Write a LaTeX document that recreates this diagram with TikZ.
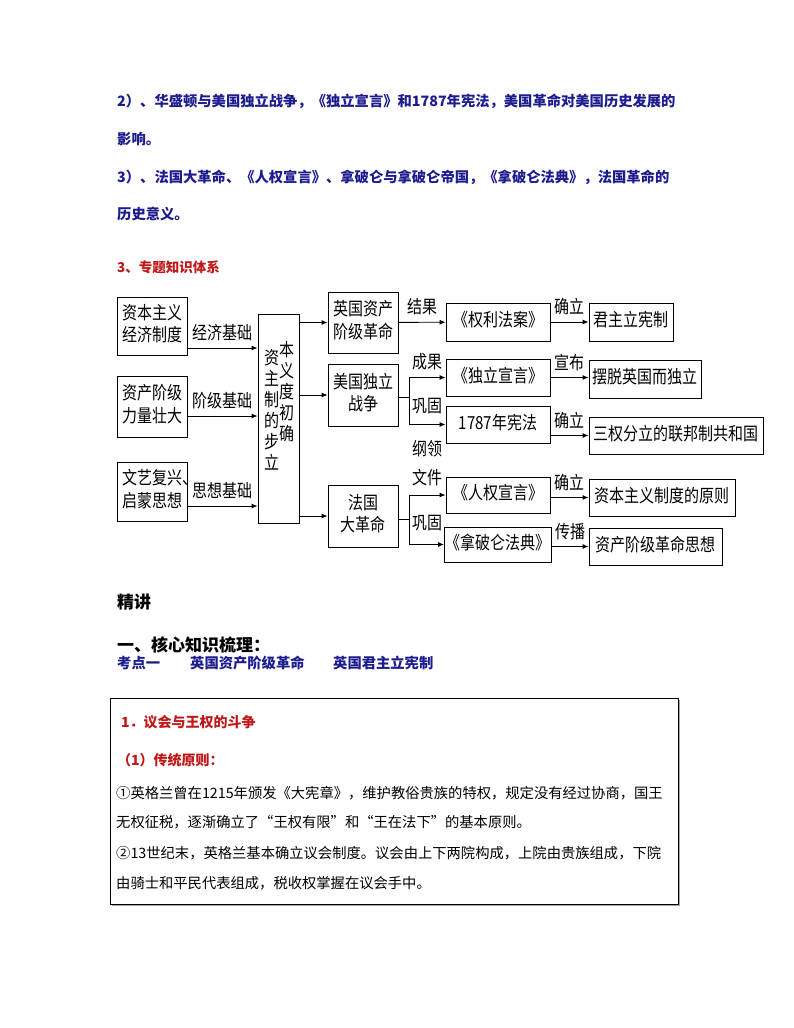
\documentclass[tikz,border=0pt]{standalone}
\usepackage{fontspec}
\setmainfont{Noto Sans CJK SC}
\usepackage{xcolor}
\usepackage{graphicx}
\usetikzlibrary{arrows.meta,positioning,calc}

\definecolor{navytxt}{HTML}{1C1C8E}
\definecolor{redtxt}{HTML}{C01818}
\newcommand{\dfont}{\fontsize{15}{19}\selectfont}
% tall glyphs of the chart
\newcommand{\vs}[1]{\scalebox{1}[1.2]{\begin{tabular}{@{}c@{}}#1\end{tabular}}}
\newcommand{\pr}[2]{\smash{\raisebox{-7pt}{#1}}#2}

\begin{document}
\begin{tikzpicture}[x=1pt, y=-1pt,
  box/.style={draw, line width=0.9pt, align=center, inner sep=1pt, font=\dfont},
  arr/.style={-{Latex[length=6pt,width=5pt]}, line width=0.9pt},
  lnk/.style={line width=0.9pt},
  lbl/.style={font=\dfont, inner sep=1pt},
  para/.style={anchor=west, inner sep=0pt, text=navytxt,
               font=\fontsize{14.3}{14.3}\selectfont\bfseries},
  redhd/.style={anchor=west, inner sep=0pt, text=redtxt,
                font=\fontsize{14}{14}\selectfont\bfseries},
  bighd/.style={anchor=west, inner sep=0pt,
                font=\fontsize{17}{17}\selectfont\bfseries},
  body/.style={anchor=west, inner sep=0pt, font=\fontsize{14.3}{14.3}\selectfont}
]
\useasboundingbox (0,0) rectangle (794,1028);
\fill[white] (0,0) rectangle (794,1028);

% top paragraphs
\node[para] (p1) at (117,101) {2）、华盛顿与美国独立战争，《独立宣言》和1787年宪法，美国革命对美国历史发展的};
\node[para] (p2) at (117,139) {影响。};
\node[para] (p3) at (117,177) {3）、法国大革命、《人权宣言》、拿破仑与拿破仑帝国，《拿破仑法典》，法国革命的};
\node[para] (p4) at (117,214) {历史意义。};
\node[redhd, font=\fontsize{13.5}{13.5}\selectfont\bfseries] (sec) at (117,267) {3、专题知识体系};

% left column
\node[box, minimum width=70pt, minimum height=58pt] (econ) at (152,326) {\vs{资本主义\\经济制度}};
\node[box, minimum width=70pt, minimum height=61pt] (cls)  at (152,406.5) {\vs{资产阶级\\力量壮大}};
\node[box, minimum width=70pt, minimum height=59pt] (idea) at (152,491.5) {\vs{文艺复兴\rlap{、}\\启蒙思想}};

\node[box, minimum width=41pt, minimum height=209pt] (core) at (278.5,418.5) {};
\node[lbl, font=\fontsize{15}{16}\selectfont] (coreTxt) at (279,404)
  {\vs{\pr{资}{本}\\\pr{主}{义}\\\pr{制}{度}\\\pr{的}{初}\\\pr{步}{确}\\\pr{立}{\phantom{确}}}};

% revolutions
\node[box, minimum width=70pt, minimum height=61pt] (eng) at (363,322.5) {\vs{英国资产\\阶级革命}};
\node[box, minimum width=70pt, minimum height=62pt] (usa) at (363,395) {\vs{美国独立\\战争}};
\node[box, minimum width=70pt, minimum height=62pt] (fra) at (363,516) {\vs{法国\\大革命}};

% documents
\node[box, minimum width=104pt, minimum height=38pt] (bill)   at (498,322)   {\vs{《权利法案》}};
\node[box, minimum width=104pt, minimum height=37pt] (decl)   at (498,377.5) {\vs{《独立宣言》}};
\node[box, minimum width=104pt, minimum height=37pt] (us1787) at (498,424.5) {\vs{1787年宪法}};
\node[box, minimum width=104pt, minimum height=36pt] (rights) at (498,495)   {\vs{《人权宣言》}};
\node[box, minimum width=104pt, minimum height=35pt] (code)   at (498,544.5) {\vs{《拿破仑法典》}};

% outcomes
\node[box, minimum width=84pt,  minimum height=38pt] (const) at (631,322)   {\vs{君主立宪制}};
\node[box, minimum width=112pt, minimum height=38pt] (indep) at (645,379)   {\vs{摆脱英国而独立}};
\node[box, minimum width=174pt, minimum height=37pt] (fed)   at (676,435.5) {\vs{三权分立的联邦制共和国}};
\node[box, minimum width=146pt, minimum height=37pt] (princ) at (662,497.5) {\vs{资本主义制度的原则}};
\node[box, minimum width=133pt, minimum height=37pt] (ideas) at (655.5,546.5) {\vs{资产阶级革命思想}};

% foundations
\draw[arr] ([yshift=-22pt]econ.east) -- ([yshift=-22pt]econ.east -| core.west)
  node[midway, above, lbl] (lEcon) {\vs{经济基础}};
\draw[arr] ([yshift=-9.5pt]cls.east) -- ([yshift=-9.5pt]cls.east -| core.west)
  node[midway, above, lbl] (lCls) {\vs{阶级基础}};
\draw[arr] ([yshift=-14.5pt]idea.east) -- ([yshift=-14.5pt]idea.east -| core.west)
  node[midway, above, lbl] (lIdea) {\vs{思想基础}};

\draw[arr] (core.east |- eng) -- (eng);
\draw[arr] (core.east |- usa) -- (usa);
\draw[arr] (core.east |- fra) -- (fra);

% England
\draw[arr] (eng) -- (bill) node[midway, above, lbl] (lRes) {\vs{结果}};
\draw[arr] (bill) -- (const) node[midway, above, lbl] (lEst1) {\vs{确立}};

% USA
\coordinate (usaJ) at (409,397);
\draw[lnk] (usa.east |- usaJ) -- (usaJ);
\draw[arr] (usaJ) |- (decl);
\draw[arr] (usaJ) |- (us1787);
\node[lbl] (lGain) at (427,364) {\vs{成果}};
\node[lbl] (lCons1) at (427,408) {\vs{巩固}};
\draw[arr] (decl) -- (decl.east -| indep.west) node[midway, above, lbl] (lPub) {\vs{宣布}};
\draw[arr] (us1787.east |- fed) -- (fed) node[midway, above, lbl] (lEst2) {\vs{确立}};

% France
\coordinate (fraJ) at (409,519);
\draw[lnk] (fra.east |- fraJ) -- (fraJ);
\draw[arr] (fraJ) |- (rights);
\draw[arr] (fraJ) |- (code);
\node[lbl] (lProg) at (427,451) {\vs{纲领}};
\node[lbl] (lDoc) at (427,480) {\vs{文件}};
\node[lbl] (lCons2) at (427,525) {\vs{巩固}};
\draw[arr] (rights.east |- princ) -- (princ) node[midway, above, lbl] (lEst3) {\vs{确立}};
\draw[arr] (code.east |- ideas) -- (ideas) node[midway, above, lbl] (lSpr) {\vs{传播}};

% lower headings
\node[bighd] (jj) at (117,602) {精讲};
\node[bighd] (hx) at (117,645) {一、核心知识梳理：};
\node[para] (kd1) at (117,663) {考点一};
\node[para] (kd2) at (190,663) {英国资产阶级革命};
\node[para] (kd3) at (333,663) {英国君主立宪制};

% text panel
\fill[black!35] (112,700) rectangle (680,906);
\node[draw, fill=white, line width=0.8pt, minimum width=568pt, minimum height=206pt] (panel) at (394,801) {};
\node[redhd] (t1) at (121,722) {1．议会与王权的斗争};
\node[redhd] (t2) at (117,760) {（1）传统原则：};
\node[body] (b1) at (116,793) {①英格兰曾在1215年颁发《大宪章》，维护教俗贵族的特权，规定没有经过协商，国王};
\node[body] (b2) at (116,822) {无权征税，逐渐确立了“王权有限”和“王在法下”的基本原则。};
\node[body] (b3) at (116,853) {②13世纪末，英格兰基本确立议会制度。议会由上下两院构成，上院由贵族组成，下院};
\node[body] (b4) at (116,883) {由骑士和平民代表组成，税收权掌握在议会手中。};
\end{tikzpicture}
\end{document}
